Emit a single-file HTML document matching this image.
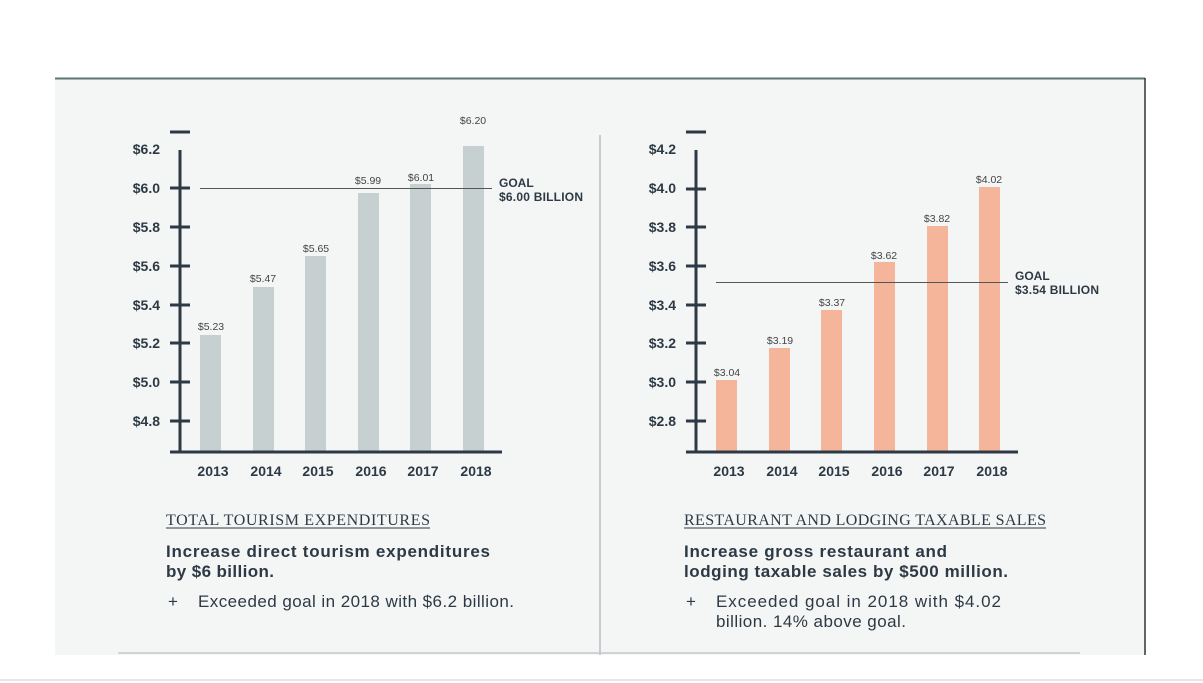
<!DOCTYPE html>
<html><head><meta charset="utf-8"><style>
html,body{margin:0;padding:0;background:#fff;}
body{width:1203px;height:683px;overflow:hidden;position:relative;font-family:"Liberation Sans",sans-serif;}
svg{position:absolute;left:0;top:0}
</style></head><body>
<svg width="1203" height="683" viewBox="0 0 1203 683" font-family="Liberation Sans, sans-serif">
<rect x="55" y="78" width="1090" height="577" fill="#f4f5f5"/>
<line x1="55" y1="78.5" x2="1145" y2="78.5" stroke="#5d7474" stroke-width="2"/>
<line x1="1145" y1="78" x2="1145" y2="655" stroke="#333" stroke-width="1.5"/>
<line x1="600" y1="135" x2="600" y2="655" stroke="#9aa3a6" stroke-width="1"/>
<line x1="118" y1="653" x2="1080" y2="653" stroke="#c3cacd" stroke-width="1.5"/>
<line x1="0" y1="680" x2="1203" y2="680" stroke="#ccc" stroke-width="1"/>

<g fill="#c7d0d1">
<rect x="200" y="335" width="21" height="117"/>
<rect x="253" y="287" width="21" height="165"/>
<rect x="305" y="256" width="21" height="196"/>
<rect x="358" y="193" width="21" height="259"/>
<rect x="410" y="184" width="21" height="268"/>
<rect x="463" y="146" width="21" height="306"/>
</g>
<line x1="200" y1="188.5" x2="492" y2="188.5" stroke="#555" stroke-width="1"/>
<g stroke="#2d3a45" stroke-width="3">
<line x1="170" y1="132" x2="190" y2="132"/>
<line x1="180" y1="150" x2="180" y2="453"/>
<line x1="170" y1="452" x2="502" y2="452"/>
<line x1="170" y1="188" x2="190" y2="188"/>
<line x1="170" y1="227" x2="190" y2="227"/>
<line x1="170" y1="266" x2="190" y2="266"/>
<line x1="170" y1="305" x2="190" y2="305"/>
<line x1="170" y1="343" x2="190" y2="343"/>
<line x1="170" y1="382" x2="190" y2="382"/>
<line x1="170" y1="421" x2="190" y2="421"/>
</g>
<g font-size="14" font-weight="bold" fill="#2d3a45" text-anchor="end">
<text x="160" y="154">$6.2</text><text x="160" y="193">$6.0</text><text x="160" y="232">$5.8</text>
<text x="160" y="271">$5.6</text><text x="160" y="310">$5.4</text><text x="160" y="348">$5.2</text>
<text x="160" y="387">$5.0</text><text x="160" y="426">$4.8</text>
</g>
<g font-size="10.5" fill="#444" text-anchor="middle">
<text x="211" y="330">$5.23</text><text x="263" y="282">$5.47</text><text x="316" y="252">$5.65</text>
<text x="368" y="184">$5.99</text><text x="421" y="181">$6.01</text><text x="473" y="124">$6.20</text>
</g>
<g font-size="14" font-weight="bold" fill="#2d3a45" text-anchor="middle">
<text x="213" y="476">2013</text><text x="266" y="476">2014</text><text x="318" y="476">2015</text>
<text x="371" y="476">2016</text><text x="423" y="476">2017</text><text x="476" y="476">2018</text>
</g>
<g font-size="12" font-weight="bold" fill="#2d3a45">
<text x="499" y="187">GOAL</text><text x="499" y="201" textLength="84">$6.00 BILLION</text>
</g>

<g fill="#f5b59a">
<rect x="716" y="380" width="21" height="72"/>
<rect x="769" y="348" width="21" height="104"/>
<rect x="821" y="310" width="21" height="142"/>
<rect x="874" y="262" width="21" height="190"/>
<rect x="927" y="226" width="21" height="226"/>
<rect x="979" y="187" width="21" height="265"/>
</g>
<line x1="716" y1="282.5" x2="1008" y2="282.5" stroke="#555" stroke-width="1"/>
<g stroke="#2d3a45" stroke-width="3">
<line x1="686" y1="132" x2="706" y2="132"/>
<line x1="696" y1="150" x2="696" y2="453"/>
<line x1="686" y1="452" x2="1018" y2="452"/>
<line x1="686" y1="189" x2="706" y2="189"/>
<line x1="686" y1="227" x2="706" y2="227"/>
<line x1="686" y1="266" x2="706" y2="266"/>
<line x1="686" y1="305" x2="706" y2="305"/>
<line x1="686" y1="343" x2="706" y2="343"/>
<line x1="686" y1="382" x2="706" y2="382"/>
<line x1="686" y1="421" x2="706" y2="421"/>
</g>
<g font-size="14" font-weight="bold" fill="#2d3a45" text-anchor="end">
<text x="676" y="154">$4.2</text><text x="676" y="193">$4.0</text><text x="676" y="232">$3.8</text>
<text x="676" y="271">$3.6</text><text x="676" y="310">$3.4</text><text x="676" y="348">$3.2</text>
<text x="676" y="387">$3.0</text><text x="676" y="426">$2.8</text>
</g>
<g font-size="10.5" fill="#444" text-anchor="middle">
<text x="727" y="376">$3.04</text><text x="780" y="344">$3.19</text><text x="832" y="306">$3.37</text>
<text x="884" y="259">$3.62</text><text x="937" y="222">$3.82</text><text x="989" y="183">$4.02</text>
</g>
<g font-size="14" font-weight="bold" fill="#2d3a45" text-anchor="middle">
<text x="729" y="476">2013</text><text x="782" y="476">2014</text><text x="834" y="476">2015</text>
<text x="887" y="476">2016</text><text x="939" y="476">2017</text><text x="992" y="476">2018</text>
</g>
<g font-size="12" font-weight="bold" fill="#2d3a45">
<text x="1015" y="280">GOAL</text><text x="1015" y="294" textLength="84">$3.54 BILLION</text>
</g>

<g font-family="Liberation Serif, serif" font-size="16" fill="#2d3a45">
<text x="166" y="525" textLength="264">TOTAL TOURISM EXPENDITURES</text>
<text x="684" y="525" textLength="362">RESTAURANT AND LODGING TAXABLE SALES</text>
</g>
<line x1="166" y1="528" x2="430" y2="528" stroke="#2d3a45" stroke-width="1"/>
<line x1="684" y1="528" x2="1046" y2="528" stroke="#2d3a45" stroke-width="1"/>
<g font-size="17" font-weight="bold" fill="#2d3a45">
<text x="166" y="557" textLength="324">Increase direct tourism expenditures</text>
<text x="166" y="577" textLength="108">by $6 billion.</text>
<text x="684" y="557" textLength="263">Increase gross restaurant and</text>
<text x="684" y="577" textLength="324">lodging taxable sales by $500 million.</text>
</g>
<g font-size="17" fill="#2d3a45">
<text x="168" y="607">+</text><text x="198" y="607" textLength="316">Exceeded goal in 2018 with $6.2 billion.</text>
<text x="686" y="607">+</text><text x="716" y="607" textLength="285">Exceeded goal in 2018 with $4.02</text>
<text x="716" y="627" textLength="190">billion. 14% above goal.</text>
</g>
</svg>
</body></html>
